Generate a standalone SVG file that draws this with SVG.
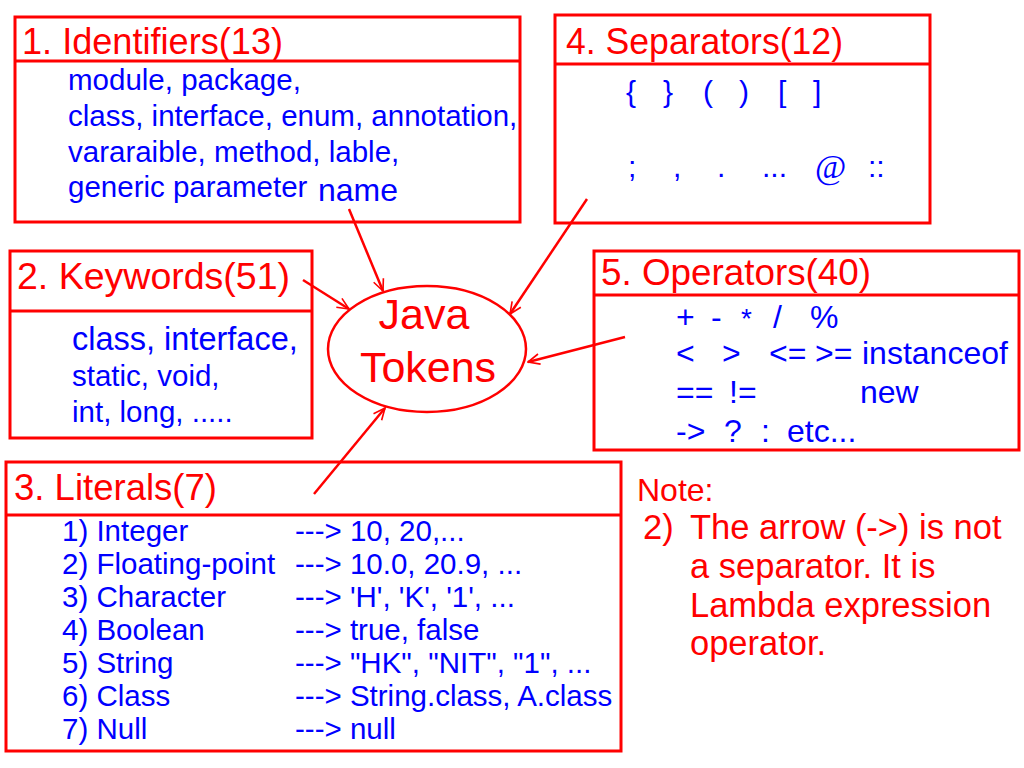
<svg xmlns="http://www.w3.org/2000/svg" width="1024" height="768" viewBox="0 0 1024 768">
<style>
.box{fill:none;stroke:#ff0000;stroke-width:3}
.title{font-family:"Liberation Sans",Arial,sans-serif;font-size:36px;fill:#ff0000}
.b{font-family:"Liberation Sans",Arial,sans-serif;fill:#0000ff}
.note{font-family:"Liberation Sans",Arial,sans-serif;fill:#ff0000}
.conn{stroke:#ff0000;stroke-width:2.5;fill:none}
</style>
<defs>
<marker id="arr" viewBox="0 0 12 12" refX="11" refY="6" markerWidth="14" markerHeight="14" orient="auto" markerUnits="userSpaceOnUse">
<path d="M1,1.5 L11,6 L1,10.5" fill="none" stroke="#ff0000" stroke-width="1.4"/>
</marker>
</defs>
<rect width="1024" height="768" fill="#ffffff"/>

<g id="identifiers">
<rect class="box" x="15" y="17" width="505" height="205"/>
<line class="box" x1="15" y1="61" x2="520" y2="61"/>
<text class="title" x="22" y="54" textLength="261" lengthAdjust="spacingAndGlyphs">1. Identifiers(13)</text>
<text class="b" font-size="29.5" x="68" y="90">module, package,</text>
<text class="b" font-size="29.5" x="68" y="126">class, interface, enum, annotation,</text>
<text class="b" font-size="29.5" x="68" y="162">vararaible, method, lable,</text>
<text class="b" font-size="29.5" x="68" y="197">generic parameter</text>
<text class="b" font-size="32" x="318" y="201">name</text>
</g>

<g id="separators">
<rect class="box" x="555" y="15" width="375" height="208"/>
<line class="box" x1="555" y1="64" x2="930" y2="64"/>
<text class="title" x="566" y="54" textLength="277" lengthAdjust="spacingAndGlyphs">4. Separators(12)</text>
<g class="b" font-size="30">
<text x="626" y="102">{</text>
<text x="663" y="102">}</text>
<text x="703" y="102">(</text>
<text x="739" y="102">)</text>
<text x="778" y="102">[</text>
<text x="813" y="102">]</text>
<text x="628" y="177">;</text>
<text x="673" y="177">,</text>
<text x="717" y="177">.</text>
<text x="762" y="177">...</text>
<text x="815" y="178" font-family="'Liberation Serif',serif" font-size="34">@</text>
<text x="868" y="177">::</text>
</g>
</g>

<g id="keywords">
<rect class="box" x="10" y="251" width="302" height="187"/>
<line class="box" x1="10" y1="311" x2="312" y2="311"/>
<text class="title" x="17" y="289" textLength="273" lengthAdjust="spacingAndGlyphs">2. Keywords(51)</text>
<text class="b" font-size="32.5" x="72" y="350">class, interface,</text>
<text class="b" font-size="29.5" x="72" y="386">static, void,</text>
<text class="b" font-size="29.5" x="72" y="422">int, long, .....</text>
</g>

<g id="java-tokens">
<ellipse cx="427" cy="349" rx="99" ry="63" fill="none" stroke="#ff0000" stroke-width="2.5"/>
<text class="note" font-size="43" x="424" y="329" text-anchor="middle">Java</text>
<text class="note" font-size="43" x="428" y="382" text-anchor="middle">Tokens</text>
</g>

<g id="operators">
<rect class="box" x="594" y="251" width="425" height="199"/>
<line class="box" x1="594" y1="295" x2="1019" y2="295"/>
<text class="title" x="601" y="285" textLength="270" lengthAdjust="spacingAndGlyphs">5. Operators(40)</text>
<g class="b" font-size="32">
<text x="676" y="328">+</text>
<text x="711" y="328">-</text>
<text x="741" y="328" font-size="28">*</text>
<text x="773" y="328">/</text>
<text x="810" y="328">%</text>
<text x="676" y="364">&lt;</text>
<text x="722" y="364">&gt;</text>
<text x="769" y="364">&lt;=</text>
<text x="815" y="364">&gt;=</text>
<text x="862" y="364">instanceof</text>
<text x="676" y="403">==</text>
<text x="729" y="403">!=</text>
<text x="860" y="403">new</text>
<text x="676" y="442">-&gt;</text>
<text x="724" y="442">?</text>
<text x="761" y="442">:</text>
<text x="787" y="442">etc...</text>
</g>
</g>

<g id="literals">
<rect class="box" x="6" y="462" width="615" height="289"/>
<line class="box" x1="6" y1="515" x2="621" y2="515"/>
<text class="title" x="14" y="500" textLength="203" lengthAdjust="spacingAndGlyphs">3. Literals(7)</text>
<g class="b" font-size="29.5">
<text x="62" y="541">1) Integer</text>
<text x="62" y="574">2) Floating-point</text>
<text x="62" y="607">3) Character</text>
<text x="62" y="640">4) Boolean</text>
<text x="62" y="673">5) String</text>
<text x="62" y="706">6) Class</text>
<text x="62" y="739">7) Null</text>
<text x="295" y="541">---&gt; 10, 20,...</text>
<text x="295" y="574">---&gt; 10.0, 20.9, ...</text>
<text x="295" y="607">---&gt; 'H', 'K', '1', ...</text>
<text x="295" y="640">---&gt; true, false</text>
<text x="295" y="673">---&gt; "HK", "NIT", "1", ...</text>
<text x="295" y="706">---&gt; String.class, A.class</text>
<text x="295" y="739">---&gt; null</text>
</g>
</g>

<g id="note">
<text class="note" font-size="32" x="637" y="501">Note:</text>
<text class="note" font-size="34.5" x="643" y="539">2)</text>
<text class="note" font-size="34.5" x="690" y="539">The arrow (-&gt;) is not</text>
<text class="note" font-size="34.5" x="690" y="578">a separator. It is</text>
<text class="note" font-size="34.5" x="690" y="617">Lambda expression</text>
<text class="note" font-size="34.5" x="690" y="655">operator.</text>
</g>

<g id="connectors">
<line class="conn" x1="349" y1="209" x2="383" y2="291" marker-end="url(#arr)"/>
<line class="conn" x1="303" y1="280" x2="349" y2="309" marker-end="url(#arr)"/>
<line class="conn" x1="587" y1="199" x2="510" y2="314" marker-end="url(#arr)"/>
<line class="conn" x1="625" y1="337" x2="528" y2="362" marker-end="url(#arr)"/>
<line class="conn" x1="314" y1="494" x2="385" y2="408" marker-end="url(#arr)"/>
</g>
</svg>
